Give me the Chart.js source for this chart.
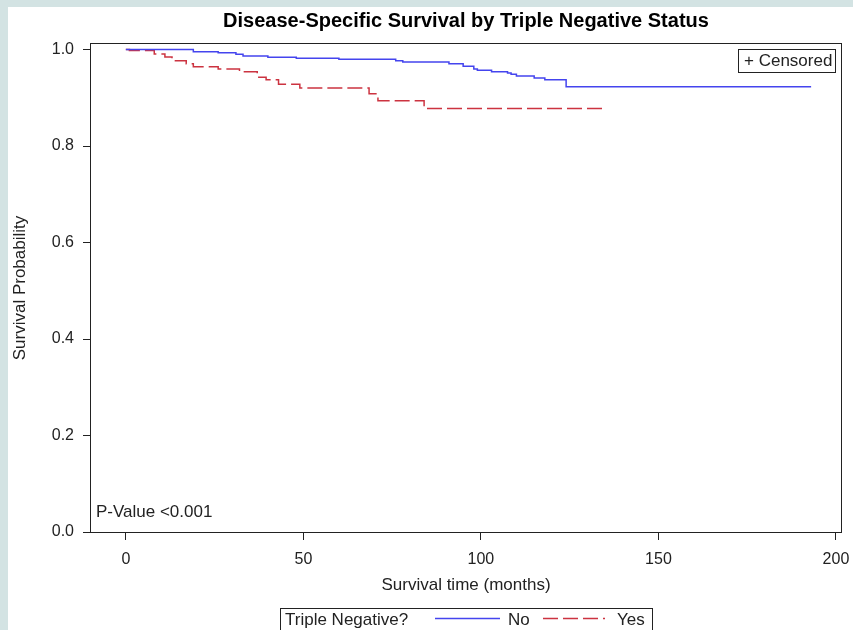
<!DOCTYPE html>
<html>
<head>
<meta charset="utf-8">
<script src="https://cdn.jsdelivr.net/npm/chart.js@4.4.1/dist/chart.umd.min.js"></script>
<style>
  html, body { margin: 0; padding: 0; background: #d3e3e3; }
  #wrap { position: absolute; left: 8px; top: 7px; width: 845px; height: 623px; background: #fff; }
</style>
</head>
<body>
<div id="wrap"><canvas id="grafico" width="845" height="623"></canvas></div>
<script>
const ctx = document.getElementById('grafico');

    // Kaplan-Meier steps (months, survival after the step)
    let noTimes = [0, 19, 26, 31, 33, 40, 48, 60, 76, 78, 91, 95, 98, 99, 103, 107.5, 108.5, 110, 115, 118, 124, 193]
    let noSurv = [1, 0.9955, 0.9934, 0.990, 0.9865, 0.9838, 0.9817, 0.9797, 0.9768, 0.9741, 0.9705, 0.9651, 0.9596, 0.9569, 0.954, 0.9513, 0.9486, 0.9451, 0.9409, 0.9374, 0.9229, 0.9229]
    let yesTimes = [0, 1, 8, 11, 13, 17, 19, 26, 32, 37, 39.5, 43, 49, 68.5, 71, 84, 135]
    let yesSurv = [1, 0.998, 0.9907, 0.9845, 0.9768, 0.9706, 0.9644, 0.9596, 0.954, 0.9424, 0.9374, 0.9279, 0.9202, 0.9084, 0.8939, 0.878, 0.878]
    let groups = ["No", "Yes"]
    let xTicks = [0, 50, 100, 150, 200]
    let yTicks = [0, 0.2, 0.4, 0.6, 0.8, 1.0]

    const font = '"Liberation Sans", Arial, sans-serif'
    const ink = '#222'

    const extras = {
        id: 'extras',
        afterDraw(chart) {
            const c = chart.ctx
            const a = chart.chartArea
            c.save()
            // frame
            c.strokeStyle = ink
            c.lineWidth = 1
            c.strokeRect(a.left + 0.5, a.top + 0.5, a.right - a.left - 1, a.bottom - a.top - 1)

            c.fillStyle = ink
            c.textBaseline = 'middle'
            c.font = '17px ' + font

            // censored inset
            c.strokeRect(730.5, 42.5, 97, 23)
            c.fillText('+ Censored', 736, 54)

            // p-value
            c.fillText('P-Value <0.001', 88, 505)

            // legend at the bottom
            c.strokeRect(272.5, 601.5, 372, 30)
            c.fillText('Triple Negative?', 277, 613)
            const ds = chart.data.datasets
            c.lineWidth = 1.5
            c.strokeStyle = ds[0].borderColor
            c.beginPath(); c.moveTo(427, 611.5); c.lineTo(492, 611.5); c.stroke()
            c.fillText(ds[0].label, 500, 613)
            c.strokeStyle = ds[1].borderColor
            c.setLineDash(ds[1].borderDash)
            c.beginPath(); c.moveTo(535, 611.5); c.lineTo(597, 611.5); c.stroke()
            c.setLineDash([])
            c.fillText(ds[1].label, 609, 613)
            c.restore()
        }
    }

    new Chart(ctx, {
        type: 'line',
        data: {
            datasets: [{
                label: groups[0],
                data: noTimes.map((t, i) => ({ x: t, y: noSurv[i] })),
                borderColor: '#4444ee',
                borderWidth: 1.5,
                stepped: true,
                pointRadius: 0,
                fill: false
            }, {
                label: groups[1],
                data: yesTimes.map((t, i) => ({ x: t, y: yesSurv[i] })),
                borderColor: '#cc3340',
                borderWidth: 1.5,
                borderDash: [15, 5],
                stepped: true,
                pointRadius: 0,
                fill: false
            }]
        },
        options: {
            responsive: false,
            animation: false,
            devicePixelRatio: 1,
            layout: { padding: { right: 11, top: 0, bottom: 0, left: 0 } },
            plugins: {
                legend: { display: false },
                tooltip: { enabled: false },
                title: {
                    display: true,
                    fullSize: false,
                    text: 'Disease-Specific Survival by Triple Negative Status',
                    color: '#000',
                    font: { family: font, size: 20, weight: 'bold' },
                    padding: { top: 2, bottom: 10 }
                }
            },
            scales: {
                x: {
                    type: 'linear',
                    min: -10.1,
                    max: 201.7,
                    afterBuildTicks: s => { s.ticks = xTicks.map(v => ({ value: v })) },
                    afterFit: s => { s.height = 97; s.paddingLeft = 0; s.paddingRight = 0 },
                    border: { display: false },
                    grid: { drawOnChartArea: false, drawTicks: true, tickLength: 7, tickColor: ink },
                    ticks: { color: ink, padding: 10, font: { family: font, size: 16 }, maxRotation: 0 },
                    title: {
                        display: true,
                        text: 'Survival time (months)',
                        color: ink,
                        font: { family: font, size: 17 },
                        padding: { top: 0, bottom: 34 }
                    }
                },
                y: {
                    min: -0.002,
                    max: 1.0135,
                    afterBuildTicks: s => { s.ticks = yTicks.map(v => ({ value: v })) },
                    afterFit: s => { s.width = 82; s.paddingTop = 0; s.paddingBottom = 0 },
                    border: { display: false },
                    grid: { drawOnChartArea: false, drawTicks: true, tickLength: 7, tickColor: ink },
                    ticks: { color: ink, padding: 9, font: { family: font, size: 16 }, callback: v => v.toFixed(1) },
                    title: {
                        display: true,
                        text: 'Survival Probability',
                        color: ink,
                        font: { family: font, size: 17 },
                        padding: { top: 2, bottom: 0 }
                    }
                }
            }
        },
        plugins: [extras]
    });
</script>
</body>
</html>
